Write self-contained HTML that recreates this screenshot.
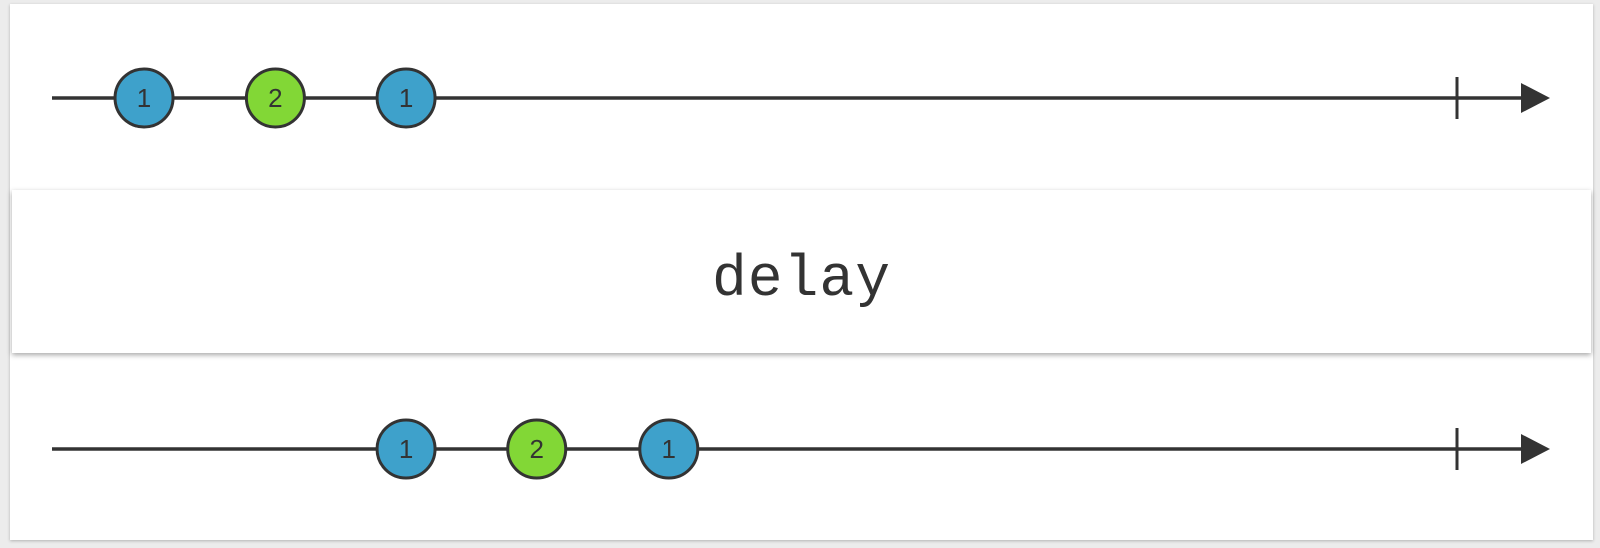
<!DOCTYPE html>
<html><head><meta charset="utf-8"><style>
body{margin:0;width:1600px;height:548px;background:#ececec;overflow:hidden;font-family:"Liberation Sans",sans-serif}
#card{position:absolute;left:10px;top:4px;width:1583px;height:536px;background:#fff;box-shadow:0 1px 3px rgba(0,0,0,0.25)}
#op{position:absolute;left:12px;top:190px;width:1579px;height:163px;background:#fff;box-shadow:0 2px 5px rgba(0,0,0,0.35);font-family:"Liberation Mono",monospace;font-size:58px;color:#333}
#op span{position:absolute;left:0;right:0;top:58px;text-align:center;letter-spacing:1px}
svg{position:absolute;left:0;top:0}
</style></head><body>
<div id="card"></div>
<svg id="top" width="1600" height="190"></svg>
<div id="op"><span>delay</span></div>
<svg id="bot" width="1600" height="548" style="pointer-events:none"></svg>
<script>
const inputTimes=[6.55,15.9,25.2];
const inputValues=["1","2","1"];
const outputTimes=[25.2,34.5,43.9];
const outputValues=["1","2","1"];
const completeTime=100;
const colors={"1":"#3ea1cb","2":"#82d736"};
const NS="http://www.w3.org/2000/svg";
function xs(t){return 52+t*(1457-52)/100;}
function mk(svg,tag,attrs){const e=document.createElementNS(NS,tag);for(const k in attrs)e.setAttribute(k,attrs[k]);svg.appendChild(e);return e;}
function draw(svg,y,times,vals,prefix){
  const l=mk(svg,'line',{x1:52,y1:y,x2:1525,y2:y,stroke:'#333','stroke-width':3.5});
  
  
  const a=mk(svg,'polygon',{points:`1521,${y-15} 1550,${y} 1521,${y+15}`,fill:'#333'});
  
  
  const cx=xs(completeTime);
  const c=mk(svg,'line',{x1:cx,y1:y-21,x2:cx,y2:y+21,stroke:'#333','stroke-width':3});
  
  
  times.forEach((t,i)=>{
    const g=mk(svg,'g',{});
    
    
    mk(g,'circle',{cx:xs(t),cy:y,r:29,fill:colors[vals[i]],stroke:'#333','stroke-width':3});
    const tx=mk(g,'text',{x:xs(t),y:y+9,'text-anchor':'middle','font-size':26,fill:'#333','font-family':'Liberation Sans, sans-serif'});
    tx.textContent=vals[i];
  });
}
draw(document.getElementById('top'),98,inputTimes,inputValues,'input');
draw(document.getElementById('bot'),449,outputTimes,outputValues,'output');
</script>
</body></html>
